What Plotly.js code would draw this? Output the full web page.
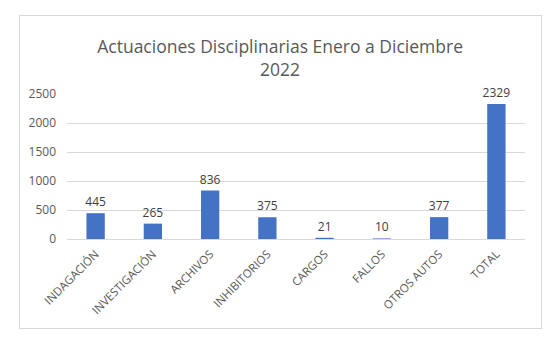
<!DOCTYPE html>
<html><head><meta charset="utf-8">
<script src="https://cdn.plot.ly/plotly-3.0.1.min.js"></script>
<style>
html,body{margin:0;padding:0;background:#fff;}
#c{width:558px;height:357px;position:relative;}
#frame{position:absolute;left:19px;top:15px;width:521px;height:312px;border:1px solid #d9d9d9;pointer-events:none;}
</style></head>
<body>
<div id="c"></div>
<div id="frame"></div>
<script>
const categories = ["INDAGACIÓN","INVESTIGACIÓN","ARCHIVOS","INHIBITORIOS","CARGOS","FALLOS","OTROS AUTOS","TOTAL"];
const values = [445, 265, 836, 375, 21, 10, 377, 2329];
const yTicks = [0, 500, 1000, 1500, 2000, 2500];

const trace = {
  type: 'bar', x: categories, y: values,
  marker: {color: '#4472C4'},
  text: values.map(String), textposition: 'outside', cliponaxis: false,
  constraintext: 'none',
  textfont: {family: 'Open Sans, sans-serif', size: 12, color: '#404040'},
  hoverinfo: 'none'
};
const layout = {
  width: 558, height: 357,
  margin: {l: 67, r: 33, t: 94, b: 118},
  paper_bgcolor: 'rgba(0,0,0,0)', plot_bgcolor: '#fff',
  font: {family: 'Open Sans, sans-serif', color: '#595959', size: 12},
  title: {text: 'Actuaciones Disciplinarias Enero a Diciembre<br>2022',
    font: {size: 17.5, color: '#595959', family: 'Open Sans, sans-serif'},
    x: 0.502, xanchor: 'center', y: 1 - 53/357, yanchor: 'middle', yref: 'container'},
  bargap: 0.68,
  xaxis: {tickangle: -45, showgrid: false, showline: true, linecolor: '#d9d9d9', linewidth: 1,
    ticks: '', ticklabelstandoff: 3, tickfont: {size: 11.5, color: '#595959'}, fixedrange: true},
  yaxis: {range: [0, 2500], tickvals: yTicks, ticktext: yTicks.map(String),
    showgrid: true, gridcolor: '#d9d9d9', zeroline: false, showline: false,
    ticks: '', ticklabelstandoff: 10, tickfont: {size: 12, color: '#595959'}, fixedrange: true},
  showlegend: false
};
Plotly.newPlot('c', [trace], layout, {displayModeBar: false, staticPlot: true});
</script>
</body></html>
